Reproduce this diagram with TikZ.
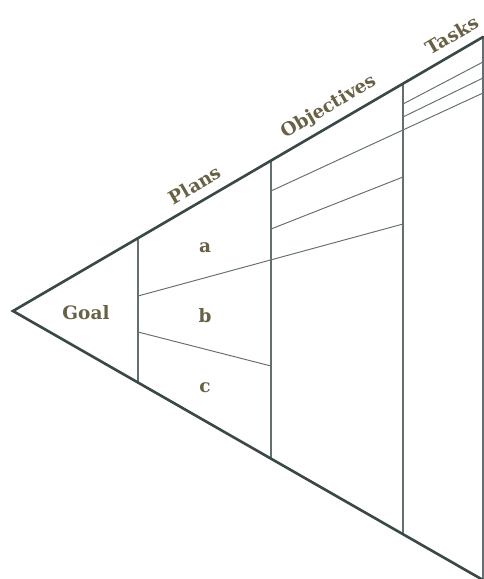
\documentclass[tikz,border=0pt]{standalone}
\usepackage{fontspec}
\setmainfont{DejaVu Serif}
\usetikzlibrary{calc,positioning}
\definecolor{edgegray}{RGB}{58,72,72}
\definecolor{linegray}{RGB}{100,112,112}
\definecolor{labelbrown}{RGB}{104,97,70}
\tikzset{
  edge/.style={edgegray,line width=1.5pt,line cap=round},
  divider/.style={linegray,line width=0.8pt},
  split/.style={linegray,line width=0.55pt},
  lab/.style={labelbrown,font=\bfseries\fontsize{10.5}{12}\selectfont,inner sep=1pt},
  head/.style={lab,rotate=30.2}
}
\begin{document}
\begin{tikzpicture}[x=0.02cm,y=-0.02cm]
\useasboundingbox (0,0) rectangle (484,579);
% the wedge
\coordinate (apex) at (13,311);
\coordinate (tr) at (483,37);
\coordinate (br) at (483,580);
% dividers meet the top and bottom edges
\foreach \n/\x in {plan/138,obj/271,task/403}{
  \coordinate (\n top) at ($(apex)!{(\x-13)/470}!(tr)$);
  \coordinate (\n bot) at ($(apex)!{(\x-13)/470}!(br)$);
  \draw[divider] (\n top) -- (\n bot);
}
\draw[divider] (tr) -- (br);
% splits between the columns
\coordinate (s1a) at (138,296); \coordinate (s1b) at (403,224);
\coordinate (s2a) at (138,332); \coordinate (s2b) at (271,366);
\coordinate (s3a) at (271,229); \coordinate (s3b) at (403,177);
\coordinate (s4a) at (271,191); \coordinate (s4b) at (483,93);
\coordinate (s5a) at (403,104); \coordinate (s5b) at (483,62);
\coordinate (s6a) at (403,117); \coordinate (s6b) at (483,78);
\foreach \s in {1,...,6}{\draw[split] (s\s a) -- (s\s b);}
\draw[edge] (tr) -- (apex) -- (br);
% labels
\node[lab] (goal) at (86,313) {Goal};
\node[lab] (pa) at (205,248) {a};
\node[lab] (pb) at (205,316) {b};
\node[lab] (pc) at (205,388) {c};
\node[head] (plans) at (195,185) {Plans};
\node[head] (objectives) at (329,107) {Objectives};
\node[head] (tasks) at (452,35) {Tasks};
\end{tikzpicture}
\end{document}
